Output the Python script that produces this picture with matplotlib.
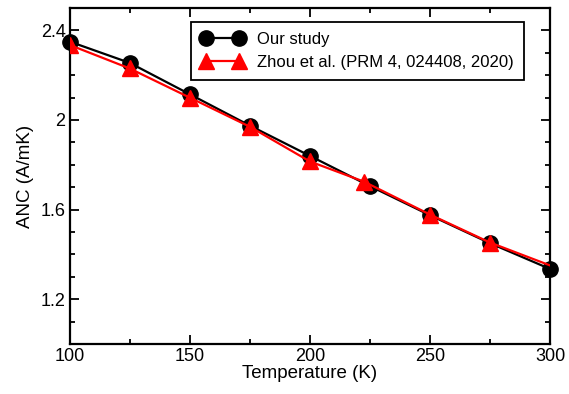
import numpy as np
import matplotlib
matplotlib.use("Agg")
import matplotlib.pyplot as plt
import matplotlib.ticker as ticker

plt.rcParams["font.family"] = ["Liberation Sans", "DejaVu Sans"]

# ANC vs temperature
temp_ours = [100, 125, 150, 175, 200, 225, 250, 275, 300]
anc_ours = [2.35, 2.255, 2.115, 1.975, 1.84, 1.705, 1.575, 1.45, 1.335]

temp_zhou = [100, 125, 150, 175, 200, 222.5, 250, 275, 310]
anc_zhou = [2.335, 2.23, 2.10, 1.97, 1.815, 1.725, 1.578, 1.453, 1.31]

label_ours = "Our study"
label_zhou = "Zhou et al. (PRM 4, 024408, 2020)"

fig = plt.figure(figsize=(5.69, 3.94), dpi=100)
ax = fig.add_axes([69.7/569, 1-344/394, (550-69.7)/569, (344-8)/394])

ax.plot(temp_ours, anc_ours, color="black", lw=1.6, marker="o", ms=11,
        label=label_ours, clip_on=False, zorder=3)
ax.plot(temp_zhou, anc_zhou, color="red", lw=1.6, marker="^", ms=11,
        label=label_zhou, zorder=4)

ax.set_xlim(100, 300)
ax.set_ylim(1.0, 2.5)
ax.xaxis.set_major_locator(ticker.MultipleLocator(50))
ax.xaxis.set_minor_locator(ticker.MultipleLocator(25))
ax.yaxis.set_major_locator(ticker.FixedLocator([1.2, 1.6, 2.0, 2.4]))
ax.yaxis.set_minor_locator(ticker.MultipleLocator(0.1))
ax.yaxis.set_major_formatter(ticker.FuncFormatter(lambda v, p: f"{v:g}"))

ax.tick_params(which="both", direction="in", top=True, right=True,
               width=1.3, labelsize=13)
ax.tick_params(which="major", length=6.5, pad=3)
ax.tick_params(which="minor", length=3.5)
for s in ax.spines.values():
    s.set_linewidth(1.6)

ax.set_xlabel("Temperature (K)", fontsize=13.5, labelpad=0)
ax.set_ylabel("ANC (A/mK)", fontsize=13.5, labelpad=5)

leg = ax.legend(loc="upper right", bbox_to_anchor=(0.946, 0.958),
                fontsize=12, fancybox=False, edgecolor="black",
                framealpha=1, borderpad=0.6, numpoints=2,
                handlelength=2.6, handletextpad=0.8, labelspacing=0.45,
                borderaxespad=0)
leg.get_frame().set_linewidth(1.3)

fig.savefig("out.png", dpi=100)
